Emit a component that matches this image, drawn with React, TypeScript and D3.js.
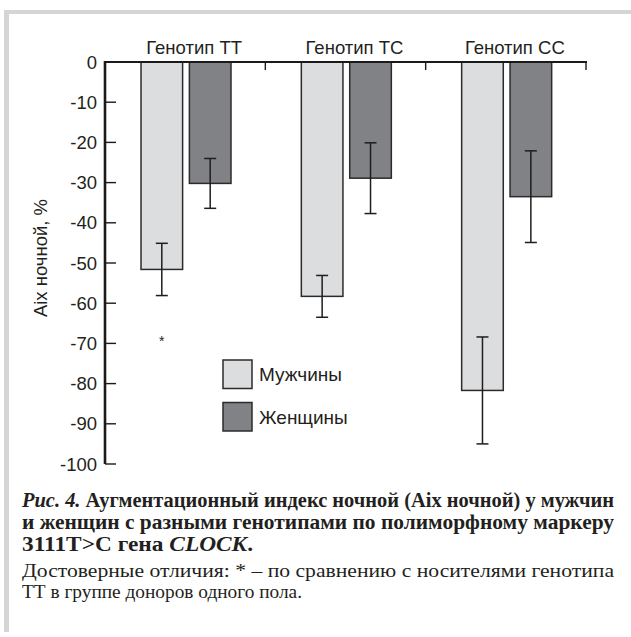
import { useEffect, useRef } from "react";
import * as d3 from "d3";

const categories = ["Генотип TT", "Генотип TC", "Генотип CC"];
const seriesNames = ["Мужчины", "Женщины"];
const menValues = [-51.6, -58.3, -81.7];
const menErrors = [6.5, 5.2, 13.3];
const womenValues = [-30.2, -28.9, -33.5];
const womenErrors = [6.2, 8.8, 11.4];
const asteriskValues = [-69, null, null];
const yTicks = [0, -10, -20, -30, -40, -50, -60, -70, -80, -90, -100];

const W = 631;
const H = 637;
const SANS = "Liberation Sans, Arimo, Arial, sans-serif";
const SERIF = "Liberation Serif, Tinos, Times New Roman, DejaVu Serif, serif";
const INK = "#231f20";
const colors = ["#dcdddf", "#808285"];

function App() {
  const svgRef = useRef<SVGSVGElement | null>(null);

  useEffect(() => {
    const svg = d3.select(svgRef.current);
    svg.selectAll("*").remove();

    // grey frame on the top and left
    svg.append("rect").attr("x", 4).attr("y", 10).attr("width", W - 4).attr("height", 4).attr("fill", "#d4d5d6");
    svg.append("rect").attr("x", 4).attr("y", 10).attr("width", 5).attr("height", 622).attr("fill", "#d4d5d6");

    const x0 = d3.scaleBand().domain(categories).range([105, 586]);
    const x1 = d3.scaleBand().domain(seriesNames).range([36, 126]).paddingInner(0.14);
    const y = d3.scaleLinear().domain([0, -100]).range([62, 464]);

    const series = [
      { name: seriesNames[0], values: menValues, errors: menErrors, color: colors[0] },
      { name: seriesNames[1], values: womenValues, errors: womenErrors, color: colors[1] },
    ];

    const g = svg.append("g");

    series.forEach((s) => {
      categories.forEach((c, i) => {
        const bx = (x0(c) as number) + (x1(s.name) as number);
        const bw = x1.bandwidth();
        g.append("rect")
          .attr("x", bx)
          .attr("y", y(0))
          .attr("width", bw)
          .attr("height", y(s.values[i]) - y(0))
          .attr("fill", s.color)
          .attr("stroke", "#2b2b2b")
          .attr("stroke-width", 1.5);
      });
    });

    // error bars
    series.forEach((s) => {
      categories.forEach((c, i) => {
        const cx = (x0(c) as number) + (x1(s.name) as number) + x1.bandwidth() / 2;
        const top = y(s.values[i] + s.errors[i]);
        const bot = y(s.values[i] - s.errors[i]);
        const eb = g.append("g").attr("stroke", "#1e1e1e").attr("stroke-width", 1.5);
        eb.append("line").attr("x1", cx).attr("x2", cx).attr("y1", top).attr("y2", bot);
        eb.append("line").attr("x1", cx - 6).attr("x2", cx + 6).attr("y1", top).attr("y2", top);
        eb.append("line").attr("x1", cx - 6).attr("x2", cx + 6).attr("y1", bot).attr("y2", bot);
      });
    });

    // asterisks
    categories.forEach((c, i) => {
      const v = asteriskValues[i];
      if (v == null) return;
      const cx = (x0(c) as number) + (x1(seriesNames[0]) as number) + x1.bandwidth() / 2;
      svg.append("text")
        .attr("x", cx)
        .attr("y", y(v) + 7)
        .attr("text-anchor", "middle")
        .attr("font-family", SANS)
        .attr("font-size", 14)
        .attr("fill", INK)
        .text("*");
    });

    // y axis
    svg.append("line")
      .attr("x1", 105).attr("x2", 105)
      .attr("y1", y(0) - 1).attr("y2", y(-100))
      .attr("stroke", "#1a1a1a").attr("stroke-width", 2.6);
    yTicks.forEach((t) => {
      svg.append("line")
        .attr("x1", 105).attr("x2", 116)
        .attr("y1", y(t)).attr("y2", y(t))
        .attr("stroke", "#1a1a1a").attr("stroke-width", 1.4);
      svg.append("text")
        .attr("x", 97)
        .attr("y", y(t))
        .attr("dy", "0.36em")
        .attr("text-anchor", "end")
        .attr("font-family", SANS)
        .attr("font-size", 18.5)
        .attr("fill", INK)
        .text(String(t));
    });

    // top axis (zero line) with category ticks
    svg.append("line")
      .attr("x1", 104).attr("x2", 587)
      .attr("y1", y(0)).attr("y2", y(0))
      .attr("stroke", "#1a1a1a").attr("stroke-width", 2);
    categories.forEach((c) => {
      const tx = (x0(c) as number) + x0.bandwidth();
      svg.append("line")
        .attr("x1", tx).attr("x2", tx)
        .attr("y1", y(0)).attr("y2", y(0) + 8)
        .attr("stroke", "#1a1a1a").attr("stroke-width", 1.4);
      svg.append("text")
        .attr("x", (x0(c) as number) + x0.bandwidth() / 2 + 9)
        .attr("y", 54)
        .attr("text-anchor", "middle")
        .attr("font-family", SANS)
        .attr("font-size", 18.5)
        .attr("fill", INK)
        .text(c);
    });

    // y title
    svg.append("text")
      .attr("transform", "translate(47,258) rotate(-90)")
      .attr("text-anchor", "middle")
      .attr("font-family", SANS)
      .attr("font-size", 18.5)
      .attr("fill", INK)
      .text("Aix ночной, %");

    // legend
    series.forEach((s, i) => {
      const ly = 360 + i * 42.5;
      svg.append("rect")
        .attr("x", 223).attr("y", ly)
        .attr("width", 29).attr("height", 28.5)
        .attr("fill", s.color)
        .attr("stroke", "#2b2b2b").attr("stroke-width", 1.5);
      svg.append("text")
        .attr("x", 259)
        .attr("y", ly + 14.5)
        .attr("dy", "0.36em")
        .attr("font-family", SANS)
        .attr("font-size", 19)
        .attr("fill", INK)
        .text(s.name);
    });

    // caption
    const cap = svg.append("g").attr("font-family", SERIF).attr("fill", INK);
    const l1 = cap.append("text")
      .attr("x", 22).attr("y", 507)
      .attr("font-size", 20).attr("font-weight", "bold")
      .attr("textLength", 592).attr("lengthAdjust", "spacingAndGlyphs");
    l1.append("tspan").attr("font-style", "italic").text("Рис. 4.");
    l1.append("tspan").text(" Аугментационный индекс ночной (Aix ночной) у мужчин");

    cap.append("text")
      .attr("x", 22).attr("y", 529)
      .attr("font-size", 20).attr("font-weight", "bold")
      .attr("textLength", 592).attr("lengthAdjust", "spacingAndGlyphs")
      .text("и женщин с разными генотипами по полиморфному маркеру");

    const l3 = cap.append("text")
      .attr("x", 22).attr("y", 551)
      .attr("font-size", 20).attr("font-weight", "bold")
      .attr("textLength", 231).attr("lengthAdjust", "spacingAndGlyphs");
    l3.append("tspan").text("3111T>C гена ");
    l3.append("tspan").attr("font-style", "italic").text("CLOCK");
    l3.append("tspan").text(".");

    cap.append("text")
      .attr("x", 22).attr("y", 577)
      .attr("font-size", 18)
      .attr("textLength", 592).attr("lengthAdjust", "spacingAndGlyphs")
      .text("Достоверные отличия: * – по сравнению с носителями генотипа");

    cap.append("text")
      .attr("x", 22).attr("y", 598)
      .attr("font-size", 18)
      .attr("textLength", 280).attr("lengthAdjust", "spacingAndGlyphs")
      .text("ТТ в группе доноров одного пола.");
  }, []);

  return (
    <svg
      ref={svgRef}
      width={W}
      height={H}
      style={{ position: "absolute", left: 0, top: 0, background: "#fff" }}
    ></svg>
  );
}

export default App;
